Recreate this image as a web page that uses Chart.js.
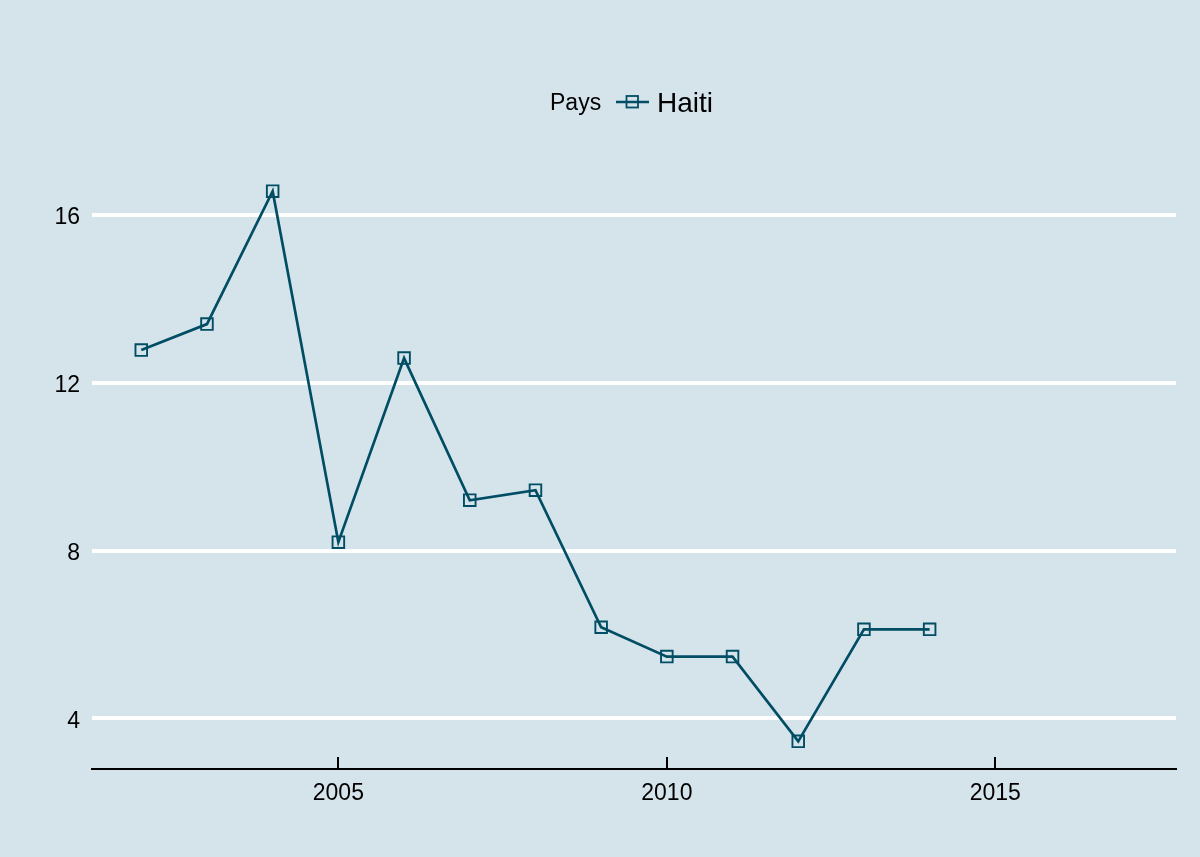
<!DOCTYPE html>
<html>
<head>
<meta charset="utf-8">
<script src="https://cdn.jsdelivr.net/npm/chart.js@4"></script>
<style>
  html, body { margin: 0; padding: 0; background: #d5e4eb; }
  canvas { display: block; }
</style>
</head>
<body>
<canvas id="grafico" width="1200" height="857"></canvas>
<script>
// valeurs
const annees = [2002, 2003, 2004, 2005, 2006, 2007, 2008, 2009, 2010, 2011, 2012, 2013, 2014];
const valeurs = [12.78, 13.40, 16.57, 8.20, 12.59, 9.20, 9.44, 6.17, 5.47, 5.47, 3.45, 6.12, 6.12];
const ticksX = [2005, 2010, 2015];
const ticksY = [4, 8, 12, 16];
const pays = 'Haiti';
const titreLegende = 'Pays';

const couleurLigne = '#014d64';
const police = "'Liberation Sans', Arial, sans-serif";

// petits traits vers le haut sur l'axe x, et la legende en ligne
const decor = {
    id: 'decor',
    afterDraw(chart) {
        const ctx = chart.ctx;
        const sx = chart.scales.x;
        const bas = chart.chartArea.bottom;
        ctx.save();
        ctx.strokeStyle = '#000';
        ctx.lineWidth = 2;
        ticksX.forEach(v => {
            const px = Math.round(sx.getPixelForValue(v));
            ctx.beginPath();
            ctx.moveTo(px, bas);
            ctx.lineTo(px, bas - 12);
            ctx.stroke();
        });

        // legende
        const yl = 104;
        ctx.fillStyle = '#000';
        ctx.textBaseline = 'middle';
        ctx.textAlign = 'left';
        ctx.font = '23px ' + police;
        ctx.fillText(titreLegende, 550, yl);
        ctx.strokeStyle = couleurLigne;
        ctx.lineWidth = 2.6;
        ctx.beginPath();
        ctx.moveTo(616, yl - 2);
        ctx.lineTo(649, yl - 2);
        ctx.stroke();
        ctx.lineWidth = 1.8;
        ctx.strokeRect(626.5, yl - 8, 11.5, 11.5);
        ctx.font = '28px ' + police;
        ctx.fillText(pays, 657, yl);
        ctx.restore();
    }
};

new Chart(document.getElementById('grafico').getContext('2d'), {
    type: 'line',
    data: {
        datasets: [{
            label: pays,
            data: annees.map((a, i) => ({ x: a, y: valeurs[i] })),
            borderColor: couleurLigne,
            borderWidth: 2.7,
            pointStyle: 'rect',
            pointRadius: 8.2,
            pointBorderWidth: 1.9,
            pointBorderColor: couleurLigne,
            pointBackgroundColor: 'rgba(0,0,0,0)',
            tension: 0,
            fill: false
        }]
    },
    options: {
        responsive: false,
        animation: false,
        devicePixelRatio: 1,
        layout: { padding: { left: 0, right: 24, top: 163.5, bottom: 0 } },
        plugins: {
            legend: { display: false },
            tooltip: { enabled: false }
        },
        scales: {
            x: {
                type: 'linear',
                min: 2001.25,
                max: 2017.75,
                afterBuildTicks: s => { s.ticks = ticksX.map(v => ({ value: v })); },
                afterFit: s => { s.height = 88; },
                grid: { display: false, drawTicks: false },
                border: { display: true, color: '#000', width: 2 },
                ticks: {
                    padding: 11,
                    color: '#000',
                    font: { family: police, size: 23 },
                    callback: v => String(v)
                }
            },
            y: {
                min: 2.79,
                max: 17.23,
                afterBuildTicks: s => { s.ticks = ticksY.map(v => ({ value: v })); },
                afterFit: s => { s.width = 92; },
                grid: { color: '#ffffff', lineWidth: 4, drawTicks: false },
                border: { display: false },
                ticks: {
                    padding: 12,
                    labelOffset: 3,
                    color: '#000',
                    font: { family: police, size: 23 },
                    callback: v => String(v)
                }
            }
        }
    },
    plugins: [decor]
});
</script>
</body>
</html>
